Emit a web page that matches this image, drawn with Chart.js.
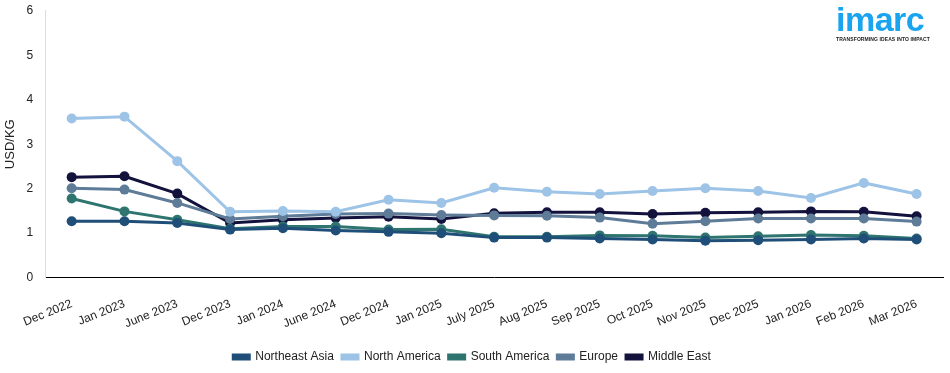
<!DOCTYPE html>
<html>
<head>
<meta charset="utf-8">
<script src="https://cdn.jsdelivr.net/npm/chart.js@4/dist/chart.umd.min.js"></script>
<style>
  html, body { margin: 0; padding: 0; background: #fff; }
  #wrap { position: relative; width: 950px; height: 373px; }
  #logo { position: absolute; left: 836px; top: 3px; font-family: "Liberation Sans", Arial, sans-serif; color: #1aa3ee; }
  #logo .name { font-size: 34px; font-weight: bold; line-height: 33px; letter-spacing: -0.5px; }
  #logo .tag { font-size: 5px; font-weight: bold; color: #222; letter-spacing: 0.1px; margin-top: 0px; }
</style>
</head>
<body>
<div id="wrap">
  <canvas id="line-chart" width="950" height="373"></canvas>
  <div id="logo"><div class="name">imarc</div><div class="tag">TRANSFORMING IDEAS INTO IMPACT</div></div>
</div>
<script>
// Categories and series values
const labels = ["Dec 2022", "Jan 2023", "June 2023", "Dec 2023", "Jan 2024", "June 2024", "Dec 2024", "Jan 2025",
  "July 2025", "Aug 2025", "Sep 2025", "Oct 2025", "Nov 2025", "Dec 2025", "Jan 2026", "Feb 2026", "Mar 2026"];

const northeastAsia = [1.27, 1.27, 1.23, 1.08, 1.11, 1.06, 1.03, 1.00, 0.90, 0.90, 0.88, 0.86, 0.83, 0.84, 0.86, 0.88, 0.86];
const northAmerica  = [3.58, 3.62, 2.62, 1.48, 1.50, 1.48, 1.75, 1.68, 2.02, 1.93, 1.88, 1.95, 2.01, 1.95, 1.79, 2.13, 1.88];
const southAmerica  = [1.78, 1.49, 1.30, 1.10, 1.15, 1.15, 1.08, 1.09, 0.92, 0.92, 0.95, 0.94, 0.90, 0.93, 0.96, 0.94, 0.88];
const europe        = [2.01, 1.98, 1.68, 1.32, 1.38, 1.43, 1.44, 1.41, 1.40, 1.39, 1.35, 1.21, 1.27, 1.33, 1.33, 1.33, 1.26];
const middleEast    = [2.26, 2.28, 1.89, 1.23, 1.30, 1.34, 1.37, 1.32, 1.45, 1.47, 1.47, 1.43, 1.46, 1.47, 1.49, 1.48, 1.38];

const yTicks = [0, 1, 2, 3, 4, 5, 6];

function series(label, data, color) {
  return {
    label: label,
    data: data,
    borderColor: color,
    backgroundColor: color,
    borderWidth: 3,
    pointRadius: 5,
    pointBackgroundColor: color,
    pointBorderWidth: 0,
    fill: false,
    tension: 0,
  };
}

Chart.defaults.font.family = "'Liberation Sans', Arial, sans-serif";
Chart.defaults.font.size = 12;
Chart.defaults.color = "#222";

const ctx = document.getElementById("line-chart").getContext("2d");
const chart = new Chart(ctx, {
  type: "line",
  data: {
    labels: labels,
    datasets: [
      series("Northeast Asia", northeastAsia, "#1f4e79"),
      series("North America", northAmerica, "#9dc3e6"),
      series("South America", southAmerica, "#2e756f"),
      series("Europe", europe, "#5e7b98"),
      series("Middle East", middleEast, "#12123d"),
    ],
  },
  options: {
    responsive: false,
    animation: false,
    layout: { padding: { left: 1, right: 7, top: 0, bottom: 0 } },
    plugins: {
      legend: {
        position: "bottom",
        labels: { boxWidth: 16, boxHeight: 4, padding: 8, color: "#222" },
      },
      tooltip: { enabled: false },
    },
    scales: {
      x: {
        offset: true,
        grid: { display: false, drawTicks: true, tickLength: 7, tickColor: "#000" },
        border: { color: "#000", width: 1 },
        ticks: { maxRotation: 22, minRotation: 22, autoSkip: false, color: "#222", padding: 12 },
      },
      y: {
        min: 0,
        max: 6,
        afterBuildTicks: (axis) => { axis.ticks = yTicks.map((v) => ({ value: v })); },
        grid: { display: false, drawTicks: true, tickLength: 6, tickColor: "#ddd" },
        border: { color: "#ddd", width: 1 },
        ticks: { color: "#222", padding: 6, font: { size: 12, lineHeight: 0.8 } },
        title: { display: true, text: "USD/KG", color: "#222", font: { size: 13 }, padding: 2 },
      },
    },
  },
});
</script>
</body>
</html>
